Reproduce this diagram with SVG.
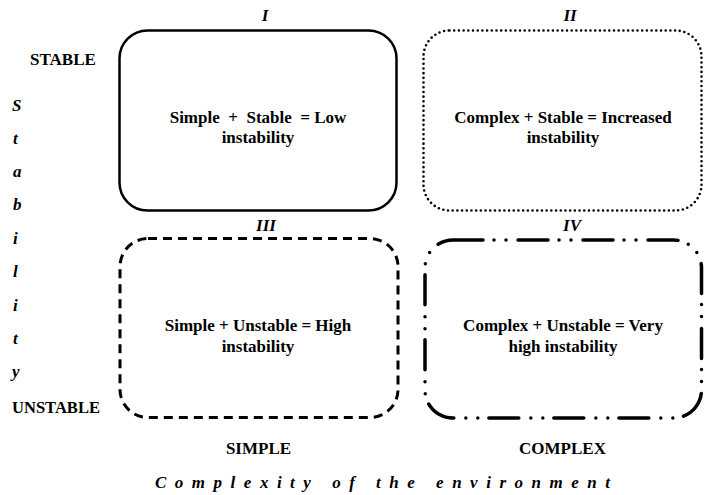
<svg xmlns="http://www.w3.org/2000/svg" width="705" height="495" viewBox="0 0 705 495">
<style>
.b{font-family:"Liberation Serif","Times New Roman",serif;font-weight:bold;font-size:17px;fill:#000}
.bi{font-family:"Liberation Serif","Times New Roman",serif;font-weight:bold;font-style:italic;font-size:17px;fill:#000}
.c{text-anchor:middle}
.box{fill:none;stroke:#000}
</style>
<rect width="705" height="495" fill="#fff"/>
<g id="axis-y">
<text class="b" x="30" y="65">STABLE</text>
<text class="bi" x="12" y="111">S</text>
<text class="bi" x="13" y="144">t</text>
<text class="bi" x="13" y="177">a</text>
<text class="bi" x="13" y="210">b</text>
<text class="bi" x="13" y="244">i</text>
<text class="bi" x="13" y="277">l</text>
<text class="bi" x="13" y="311">i</text>
<text class="bi" x="13" y="344">t</text>
<text class="bi" x="12" y="377">y</text>
<text class="b" x="12" y="413" textLength="88" lengthAdjust="spacingAndGlyphs">UNSTABLE</text>
</g>
<g id="axis-x">
<text class="b c" x="258.5" y="454">SIMPLE</text>
<text class="b c" x="562.5" y="454">COMPLEX</text>
<text class="bi" x="155" y="488" font-size="18" textLength="455" lengthAdjust="spacing">Complexity of the environment</text>
</g>
<g id="q1">
<rect class="box" x="119.5" y="30.5" width="277" height="180" rx="28" stroke-width="2.5"/>
<text class="bi c" x="265" y="21">I</text>
<text class="b c" x="258" y="123" xml:space="preserve">Simple  +  Stable  = Low</text>
<text class="b c" x="258" y="143">instability</text>
</g>
<g id="q2">
<rect class="box" x="423.5" y="30.5" width="278" height="180" rx="26" stroke-width="2.6" stroke-dasharray="0 4.7" stroke-linecap="round"/>
<text class="bi c" x="570" y="21">II</text>
<text class="b c" x="563" y="123">Complex + Stable = Increased</text>
<text class="b c" x="563" y="143">instability</text>
</g>
<g id="q3">
<rect class="box" x="120" y="238.5" width="278" height="179" rx="28" stroke-width="3" stroke-dasharray="9 6"/>
<text class="bi c" x="266" y="231">III</text>
<text class="b c" x="258" y="331">Simple + Unstable = High</text>
<text class="b c" x="258" y="352">instability</text>
</g>
<g id="q4">
<rect class="box" x="425" y="240" width="276.5" height="178" rx="28" stroke-width="3.5" stroke-dasharray="30 11 0 12 0 12" stroke-linecap="round"/>
<text class="bi c" x="572" y="231">IV</text>
<text class="b c" x="563" y="331">Complex + Unstable = Very</text>
<text class="b c" x="563" y="352">high instability</text>
</g>
<g id="connectors"></g>
</svg>
